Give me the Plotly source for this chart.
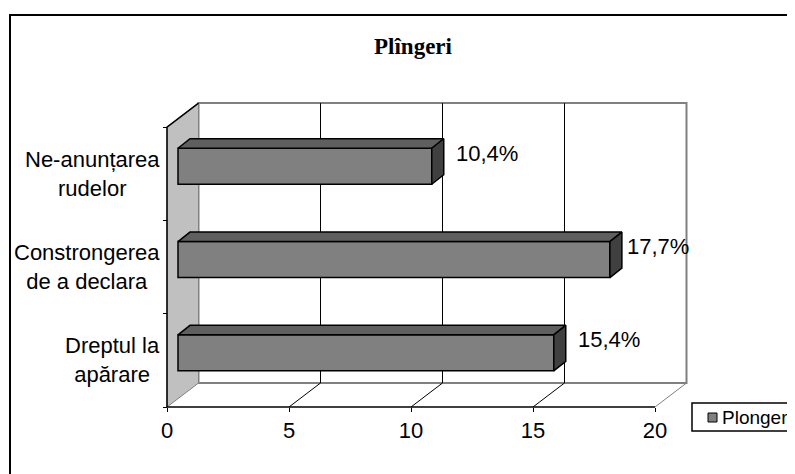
import plotly.graph_objects as go

# data (bottom to top, as drawn)
categories = ["Dreptul la<br>apărare", "Constrongerea<br>de a declara", "Ne-anunțarea<br>rudelor"]
values = [15.4, 17.7, 10.4]
x_ticks = [0, 5, 10, 15, 20]
series_name = "Plonger"
title_text = "Plîngeri"

# layout, in screen pixels (the page puts the figure 8px in from the corner)
OFF = 8
W, H = 795 - OFF, 474 - OFF
PL, PR, PT, PB = 150, 700, 95, 415      # plot area on screen
X0PX, XUNIT = 167, 24.4                  # x=0 on the front plane, px per unit
Y0PX, YUNIT = 407, 93.3                  # floor on the front plane, px per category

DX, DY = 31.5 / XUNIT, 24 / YUNIT        # full depth of the 3d box
FX, FY = 11 / XUNIT, 7.5 / YUNIT         # bar front face offset
BDX, BDY = 12 / XUNIT, 9.5 / YUNIT       # bar depth
BH = 36 / YUNIT                          # bar thickness
LABEL_XSHIFT = [10, 3, 10]

xr = [(PL - X0PX) / XUNIT, (PR - X0PX) / XUNIT]
yr = [-0.5 + (Y0PX - PB) / YUNIT, -0.5 + (Y0PX - PT) / YUNIT]


def px_x(p):
    return (p - PL) / (PR - PL)


def px_y(p):
    return (PB - p) / (PB - PT)


XMAX = x_ticks[-1]
ylo, yhi = -0.5, len(categories) - 0.5
FONT = "Liberation Sans, Arial, sans-serif"
FS = 22

fig = go.Figure()

# front faces of the bars
fig.add_trace(go.Bar(
    x=values, y=[i + FY for i in range(len(values))], base=FX, orientation="h",
    width=BH, name=series_name, showlegend=False,
    marker=dict(color="#808080", line=dict(color="black", width=1.5)),
    hoverinfo="skip",
))

# top and side faces
for i, v in enumerate(values):
    y0, y1 = i + FY - BH / 2, i + FY + BH / 2
    x1 = FX + v
    fig.add_trace(go.Scatter(
        x=[FX, x1, x1 + BDX, FX + BDX, FX], y=[y1, y1, y1 + BDY, y1 + BDY, y1],
        mode="lines", fill="toself", fillcolor="#5f5f5f",
        line=dict(color="black", width=1.5), showlegend=False, hoverinfo="skip"))
    fig.add_trace(go.Scatter(
        x=[x1, x1 + BDX, x1 + BDX, x1, x1], y=[y0, y0 + BDY, y1 + BDY, y1, y0],
        mode="lines", fill="toself", fillcolor="#404040",
        line=dict(color="black", width=1.5), showlegend=False, hoverinfo="skip"))

shapes = []
# back wall
shapes.append(dict(type="rect", xref="x", yref="y", x0=DX, x1=XMAX + DX, y0=ylo + DY, y1=yhi + DY,
                   fillcolor="white", line=dict(color="#808080", width=2), layer="below"))
for t in x_ticks[1:-1]:
    shapes.append(dict(type="line", xref="x", yref="y", x0=t + DX, x1=t + DX, y0=ylo + DY, y1=yhi + DY,
                       line=dict(color="black", width=1), layer="below"))
# left wall
shapes.append(dict(type="path", xref="x", yref="y",
                   path=f"M0,{ylo} L{DX},{ylo + DY} L{DX},{yhi + DY} L0,{yhi} Z",
                   fillcolor="#c0c0c0", line=dict(color="#808080", width=1), layer="below"))
shapes.append(dict(type="path", xref="x", yref="y",
                   path=f"M0,{ylo} L0,{yhi} L{DX},{yhi + DY}",
                   line=dict(color="black", width=1.5), layer="below"))
# floor
for t in x_ticks[1:]:
    shapes.append(dict(type="line", xref="x", yref="y", x0=t, x1=t + DX, y0=ylo, y1=ylo + DY,
                       line=dict(color="black" if t < XMAX else "#808080", width=1), layer="below"))
shapes.append(dict(type="line", xref="x", yref="y", x0=0, x1=XMAX, y0=ylo, y1=ylo,
                   line=dict(color="black", width=1.5), layer="below"))
# outer chart frame
shapes.append(dict(type="rect", xref="paper", yref="paper",
                   x0=px_x(10), x1=px_x(805), y0=px_y(490), y1=px_y(15),
                   line=dict(color="black", width=2)))
# legend box and key
shapes.append(dict(type="rect", xref="paper", yref="paper",
                   x0=px_x(692), x1=px_x(805), y0=px_y(431), y1=px_y(403),
                   fillcolor="white", line=dict(color="black", width=1.5)))
shapes.append(dict(type="rect", xref="paper", yref="paper",
                   x0=px_x(708), x1=px_x(717), y0=px_y(422), y1=px_y(413),
                   fillcolor="#808080", line=dict(color="black", width=1)))

annotations = []
for i, c in enumerate(categories):
    annotations.append(dict(xref="paper", yref="y", x=px_x(162), y=i, xanchor="right", yanchor="middle",
                            text=c, showarrow=False, align="center",
                            font=dict(family=FONT, size=FS, color="black")))
for i, v in enumerate(values):
    annotations.append(dict(xref="x", yref="y", x=FX + v + BDX, y=i + FY, xanchor="left", yanchor="middle",
                            xshift=LABEL_XSHIFT[i], yshift=13,
                            text=f"{v:.1f}%".replace(".", ","), showarrow=False,
                            font=dict(family=FONT, size=FS, color="black")))
annotations.append(dict(xref="paper", yref="paper", x=px_x(720), y=px_y(417), xanchor="left", yanchor="middle",
                        text=series_name, showarrow=False,
                        font=dict(family=FONT, size=19, color="black")))

fig.update_layout(
    width=W, height=H,
    margin=dict(l=PL - OFF, r=W - PR + OFF, t=PT - OFF, b=H - PB + OFF, autoexpand=False),
    paper_bgcolor="white", plot_bgcolor="white",
    title=dict(text=f"<b>{title_text}</b>", x=(413 - OFF) / W, xanchor="center",
               y=1 - (46 - OFF) / H, yanchor="middle",
               font=dict(family="Liberation Serif, Times New Roman, serif", size=23, color="black")),
    xaxis=dict(range=xr, tickvals=x_ticks, ticks="outside", ticklen=4, tickcolor="black",
               showgrid=False, zeroline=False, showline=False, anchor="free", position=px_y(Y0PX),
               tickfont=dict(family=FONT, size=FS, color="black"), fixedrange=True),
    yaxis=dict(range=yr, tickvals=[-0.5, 0.5, 1.5, 2.5], ticks="outside", ticklen=4, tickcolor="black",
               showticklabels=False, showgrid=False, zeroline=False, showline=False,
               anchor="free", position=px_x(X0PX), fixedrange=True),
    showlegend=False,
    shapes=shapes, annotations=annotations,
)

fig.write_html("out.html")
